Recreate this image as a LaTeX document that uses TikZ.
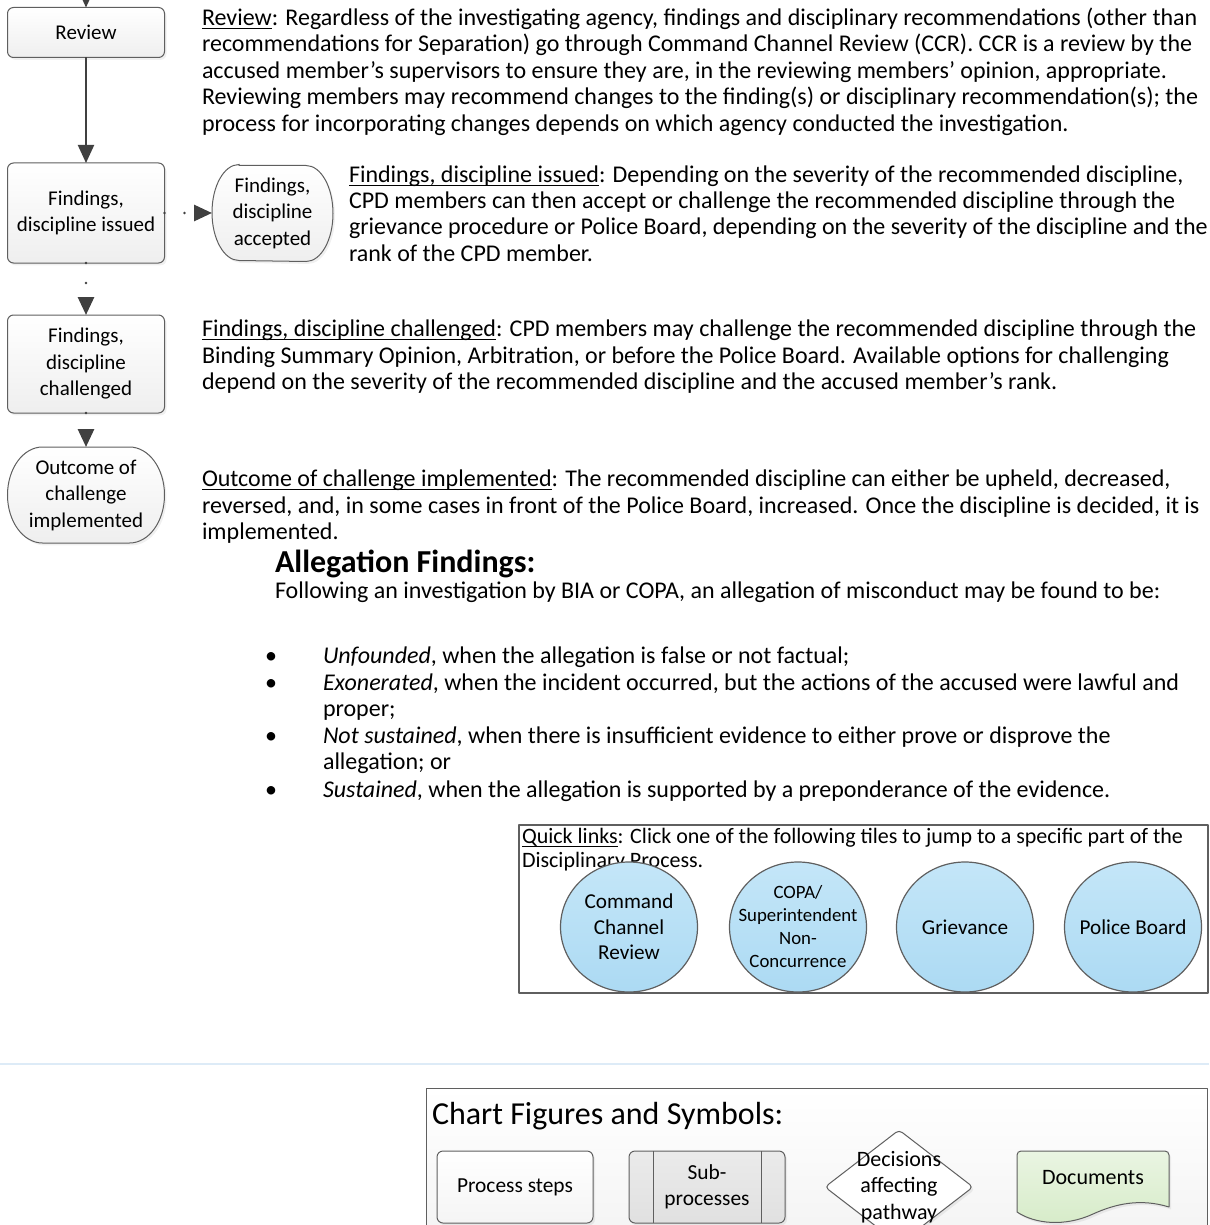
\documentclass[tikz,border=0pt]{standalone}
\usepackage{fontspec}
\setmainfont{Carlito}
\usetikzlibrary{arrows.meta,positioning,calc,shapes.geometric,shadows}
\definecolor{linegray}{HTML}{404040}
\definecolor{edgegray}{HTML}{5F5F5F}
\definecolor{tileblue}{HTML}{ACDAF3}
\definecolor{tilebluetop}{HTML}{C4E6F8}
\definecolor{docgreen}{HTML}{D6EBC8}
\definecolor{docgreentop}{HTML}{EAF5E2}
\definecolor{rulebl}{HTML}{DDEBF7}
\newcommand{\ulword}[1]{\setbox0\hbox{#1}\rlap{\vrule height -1.4pt depth 1.9pt width \wd0}\box0}
\pgfdeclarelayer{bg}
\pgfsetlayers{bg,main}

\begin{document}
\begin{tikzpicture}[x=0.5pt,y=-0.5pt,line join=round,
  every node/.style={inner sep=0pt,outer sep=0pt,font=\fontsize{10.5}{13.25}\selectfont},
  stepbox/.style={draw=edgegray,line width=0.5pt,rounded corners=3pt,align=center,
    minimum width=78.5pt,top color=white,bottom color=gray!13,
    drop shadow={shadow xshift=1pt,shadow yshift=-1.2pt,opacity=0.12}},
  termtext/.style={align=center},
  termline/.style={draw=edgegray,line width=0.5pt,top color=white,bottom color=gray!13},
  flow/.style={draw=linegray,line width=1pt,-{Triangle[width=8pt,length=9pt]}},
  dotflow/.style={flow,line width=1.4pt,line cap=round,dash pattern=on 0pt off 10pt},
  para/.style={anchor=base west,align=left,font=\fontsize{12}{13.25}\selectfont},
  tile/.style={ellipse,draw=edgegray,line width=0.6pt,top color=tilebluetop,bottom color=tileblue,
    minimum width=68.5pt,minimum height=65pt},
  tiletext/.style={align=center,font=\fontsize{10.6}{12.75}\selectfont},
  legbox/.style={draw=edgegray,line width=0.5pt,rounded corners=3pt,align=center,
    minimum width=78pt,minimum height=36pt,font=\fontsize{10.7}{13.25}\selectfont,
    drop shadow={shadow xshift=1pt,shadow yshift=-1.2pt,opacity=0.12}},
  ]
\useasboundingbox (0,0) rectangle (1209,1225);

% flow chart on the left
\coordinate (top) at (86,-40);
\node[stepbox,minimum height=25pt] (review) at (86,32.5) {Review};
\node[stepbox,minimum height=50pt] (issued) at (86,213) {Findings,\\discipline issued};
\node[stepbox,minimum height=49pt] (chal) at (86,364) {Findings,\\discipline\\challenged};
\node[termtext,minimum width=78.5pt,minimum height=48pt] (out) at (86,495) {Outcome of\\challenge\\implemented};
\node[termtext,minimum width=60.5pt,minimum height=47.5pt] (acc) at (272.5,213) {Findings,\\discipline\\accepted};

\begin{pgfonlayer}{bg}
\foreach \n/\r in {acc/13.5pt,out/17.5pt}{
  \draw[termline,drop shadow={shadow xshift=1pt,shadow yshift=-1.2pt,opacity=0.12}]
    ($(\n.north west)+(\r,0pt)$) -- ($(\n.north east)+(-\r,0pt)$)
    arc[start angle=90,end angle=-90,x radius=\r,y radius=24pt]
    -- ($(\n.south west)+(\r,0pt)$)
    arc[start angle=270,end angle=90,x radius=\r,y radius=24pt] -- cycle;
}
\end{pgfonlayer}

\draw[flow] (top) -- (review);
\draw[flow] (review) -- (issued);
\draw[dotflow] (issued.east) -- (acc.west);
\draw[dotflow] (issued) -- (chal);
\draw[dotflow] (chal) -- (out);

% explanations (anchored at the baseline of the last line)
\node[para] (revtxt) at (202,131.5) {\ulword{Review}: Regardless of the investigating agency, findings and disciplinary recommendations (other than\\
recommendations for Separation) go through Command Channel Review (CCR). CCR is a review by the\\
accused member’s supervisors to ensure they are, in the reviewing members’ opinion, appropriate.\\
Reviewing members may recommend changes to the finding(s) or disciplinary recommendation(s); the\\
process for incorporating changes depends on which agency conducted the investigation.};
\node[para] (isstxt) at (349,261.5) {\ulword{Findings, discipline issued}: Depending on the severity of the recommended discipline,\\
CPD members can then accept or challenge the recommended discipline through the\\
grievance procedure or Police Board, depending on the severity of the discipline and the\\
rank of the CPD member.};
\node[para] (chaltxt) at (202,389.5) {\ulword{Findings, discipline challenged}: CPD members may challenge the recommended discipline through the\\
Binding Summary Opinion, Arbitration, or before the Police Board. Available options for challenging\\
depend on the severity of the recommended discipline and the accused member’s rank.};
\node[para] (outtxt) at (202,539.5) {\ulword{Outcome of challenge implemented}: The recommended discipline can either be upheld, decreased,\\
reversed, and, in some cases in front of the Police Board, increased. Once the discipline is decided, it is\\
implemented.};

% allegation findings
\node[para,font=\fontsize{16}{19}\selectfont\bfseries] (alleg) at (275,572) {Allegation Findings:};
\node[para] (follow) at (275,598.5) {Following an investigation by BIA or COPA, an allegation of misconduct may be found to be:};
\foreach \b/\y/\t in {663.5/663.5/{\textit{Unfounded}, when the allegation is false or not factual;},
  690/716.5/{\textit{Exonerated}, when the incident occurred, but the actions of the accused were lawful and\\proper;},
  743/769.5/{\textit{Not sustained}, when there is insufficient evidence to either prove or disprove the\\allegation; or},
  797.5/797.5/{\textit{Sustained}, when the allegation is supported by a preponderance of the evidence.}}{
  \node[para] (dot\y) at (265,\b) {•};
  \node[para] (item\y) at (323,\y) {\t};
}

% quick links
\node[draw=edgegray,line width=0.6pt,minimum width=344.5pt,minimum height=84pt] (quick) at (863.5,909) {};
\node[para,font=\fontsize{11}{12}\selectfont] (quicktxt) at (522,867) {\ulword{Quick links}: Click one of the following tiles to jump to a specific part of the\\Disciplinary Process.};
\node[tile] (ccr) at (629,927) {};
\node[tiletext] (ccrtxt) at (ccr) {Command\\Channel\\Review};
\node[tile] (copa) at (798,927) {};
\node[tiletext,font=\fontsize{9.4}{11.5}\selectfont] (copatxt) at (copa) {COPA/\\Superintendent\\Non-\\Concurrence};
\node[tile] (griev) at (965,927) {};
\node[tiletext] (grievtxt) at (griev) {Grievance};
\node[tile] (board) at (1133,927) {};
\node[tiletext] (boardtxt) at (board) {Police Board};

% legend
\draw[rulebl,line width=0.6pt] (0,1064) -- (1209,1064);
\draw[draw=edgegray,line width=0.5pt,top color=white,bottom color=gray!10] (426,1088) rectangle (1207,1260);
\node[para,font=\fontsize{16}{19}\selectfont] (legtitle) at (432,1124) {Chart Figures and Symbols:};
\node[legbox,top color=white,bottom color=gray!8] (lproc) at (515,1187) {Process steps};
\node[legbox,top color=gray!16,bottom color=gray!24] (lsub) at (707,1187) {Sub-\\processes};
\draw[edgegray,line width=0.5pt] ($(lsub.north west)+(24,0)$) -- ($(lsub.south west)+(24,0)$)
  ($(lsub.north east)+(-24,0)$) -- ($(lsub.south east)+(-24,0)$);
\coordinate (decpt) at (899,1187);
\draw[edgegray,line width=0.5pt,fill=white,rounded corners=2pt,
  drop shadow={shadow xshift=1pt,shadow yshift=-1.2pt,opacity=0.12}]
  ($(decpt)+(-74,0)$) -- ($(decpt)+(0,-57)$) -- ($(decpt)+(74,0)$) -- ($(decpt)+(0,57)$) -- cycle;
\node[align=center,font=\fontsize{11}{13.25}\selectfont] (ldec) at (decpt) {Decisions\\affecting\\pathway};
\draw[edgegray,line width=0.5pt,top color=docgreentop,bottom color=docgreen,
  drop shadow={shadow xshift=1pt,shadow yshift=-1.2pt,opacity=0.12}]
  (1021,1151) -- (1165,1151) arc[start angle=90,end angle=0,radius=2pt] -- (1169,1207)
  .. controls (1140,1198) and (1115,1204) .. (1093,1214)
  .. controls (1065,1227) and (1035,1224) .. (1017,1212) -- (1017,1155)
  arc[start angle=180,end angle=90,radius=2pt] -- cycle;
\node[font=\fontsize{11}{13.25}\selectfont] (ldoc) at (1093,1178) {Documents};
\end{tikzpicture}
\end{document}
